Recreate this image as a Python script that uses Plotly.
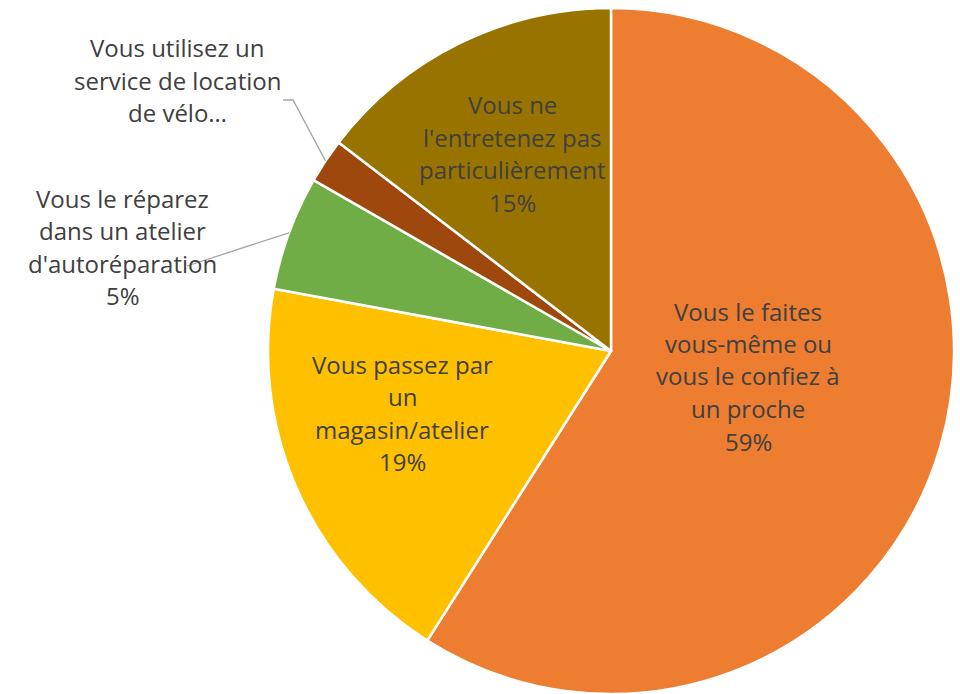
import math
import plotly.graph_objects as go

# ---- data ----
categories = [
    "Vous le faites vous-même ou vous le confiez à un proche",
    "Vous passez par un magasin/atelier",
    "Vous le réparez dans un atelier d'autoréparation",
    "Vous utilisez un service de location de vélo…",
    "Vous ne l'entretenez pas particulièrement",
]
values = [59.0, 18.9, 5.4, 2.1, 14.6]
label_lines = [
    ["Vous le faites", "vous-même ou", "vous le confiez à", "un proche"],
    ["Vous passez par", "un", "magasin/atelier"],
    ["Vous le réparez", "dans un atelier", "d'autoréparation"],
    ["Vous utilisez un", "service de location", "de vélo…"],
    ["Vous ne", "l'entretenez pas", "particulièrement"],
]
show_pct = [True, True, True, False, True]
colors = ["#ED7D31", "#FFC000", "#70AD47", "#9E480E", "#997300"]

# ---- layout constants ----
W, H = 960, 694
CX, CY, R = 611, 351, 343
FONT = "Open Sans"
FSIZE = 24
TXT = "#404040"
LINE_H = 32.5
# label block first-line centre (pixels)
label_pos = [(748, 311), (402, 364), (123, 198), (177, 48), (512, 105)]
# leader-line start points (pixels) for outside labels
leader_start = {2: [(187, 266)], 3: [(283, 100), (293, 100)]}

fig = go.Figure(go.Pie(
    labels=categories,
    values=values,
    marker=dict(colors=colors, line=dict(color="white", width=2.5)),
    sort=False,
    direction="clockwise",
    rotation=0,
    textinfo="none",
    hoverinfo="label+percent",
    domain=dict(x=[(CX - R) / W, (CX + R) / W], y=[1 - (CY + R) / H, 1 - (CY - R) / H]),
    showlegend=False,
))

total = sum(values)
annotations = []
for i, lines in enumerate(label_lines):
    pct = round(values[i] / total * 100)
    all_lines = lines + ([f"{pct}%"] if show_pct[i] else [])
    x0, y0 = label_pos[i]
    for k, t in enumerate(all_lines):
        annotations.append(dict(
            x=x0 / W, y=1 - (y0 + k * LINE_H) / H, xref="paper", yref="paper",
            text=t, showarrow=False, xanchor="center", yanchor="middle",
            font=dict(family=FONT, size=FSIZE, color=TXT),
        ))

shapes = []
cum = 0.0
mids = []
for v in values:
    mids.append((cum + v / 2) / total * 2 * math.pi)
    cum += v
for i, pts in leader_start.items():
    a = mids[i]
    ex = CX + R * math.sin(a)
    ey = CY - R * math.cos(a)
    path_pts = pts + [(ex, ey)]
    path = "M " + " L ".join(f"{px / W},{1 - py / H}" for px, py in path_pts)
    shapes.append(dict(type="path", xref="paper", yref="paper", path=path,
                       line=dict(color="#A6A6A6", width=1.3)))

fig.update_layout(
    width=W, height=H,
    margin=dict(l=0, r=0, t=0, b=0),
    paper_bgcolor="white", plot_bgcolor="white",
    annotations=annotations, shapes=shapes,
)
fig.write_html("out.html", config={"displayModeBar": False},
               post_script="document.body.style.margin='0';")
